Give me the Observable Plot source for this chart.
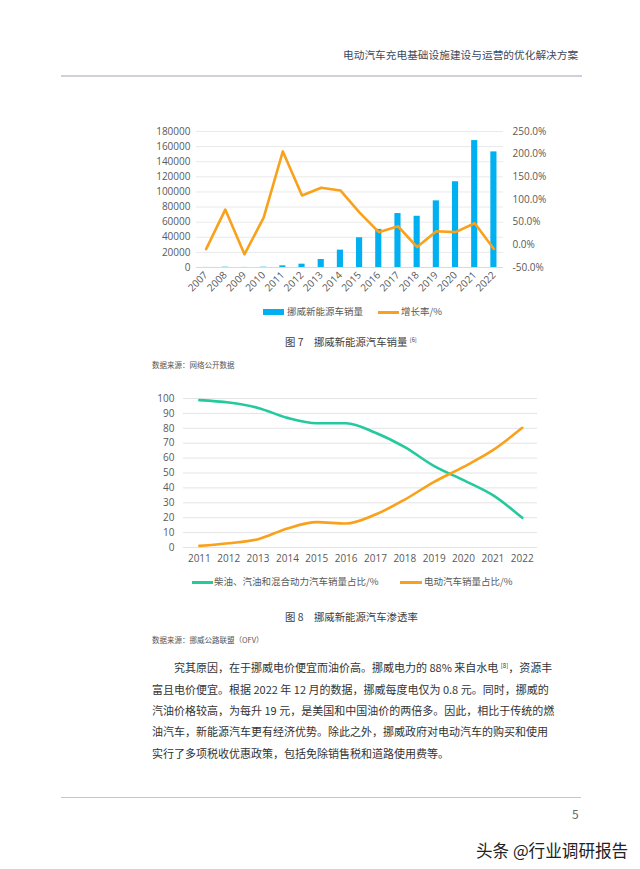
<!DOCTYPE html>
<html>
<head>
<meta charset="utf-8">
<script src="https://cdn.jsdelivr.net/npm/d3@7"></script>
<script src="https://cdn.jsdelivr.net/npm/@observablehq/plot@0.6"></script>
<style>
  html, body { margin:0; padding:0; background:#fff; }
  body { width:640px; height:869px; position:relative; overflow:hidden; font-family:"Noto Sans CJK SC","Noto Sans",sans-serif; }
  .t { position:absolute; line-height:1; transform:translateY(-50%); white-space:nowrap; }
  .hr { position:absolute; height:0; }
  .chart { position:absolute; }
  .sw { position:absolute; }
  sup { font-size:0.55em; vertical-align:0.6em; line-height:0; }
</style>
</head>
<body>
<div class="t" style="left:343px;top:55px;font-size:10.7px;color:#3c4a5c;">电动汽车充电基础设施建设与运营的优化解决方案</div>
<div class="hr" style="left:61px;top:75px;width:521px;border-top:2px solid #cfd0dc;"></div>

<div id="c1" class="chart" style="left:140px;top:120px;"></div>
<div class="sw" style="left:263px;top:309px;width:21px;height:6px;background:#00b0f0;"></div>
<div class="t" style="left:287px;top:312px;font-size:9.5px;color:#595959;">挪威新能源车销量</div>
<div class="sw" style="left:378px;top:311px;width:21px;height:2.6px;background:#f9a11b;"></div>
<div class="t" style="left:401px;top:312px;font-size:9.5px;color:#595959;">增长率/%</div>
<div class="t" style="left:285px;top:342px;font-size:10.4px;color:#404040;">图 7　挪威新能源汽车销量 <sup>[6]</sup></div>
<div class="t" style="left:152px;top:365px;font-size:7.5px;color:#555;">数据来源：网络公开数据</div>

<div id="c2" class="chart" style="left:140px;top:385px;"></div>
<div class="sw" style="left:192px;top:581px;width:21px;height:2.6px;background:#24c99d;"></div>
<div class="t" style="left:214px;top:582px;font-size:9.5px;color:#595959;">柴油、汽油和混合动力汽车销量占比/%</div>
<div class="sw" style="left:400px;top:581px;width:22px;height:2.6px;background:#f9a11b;"></div>
<div class="t" style="left:424px;top:582px;font-size:9.5px;color:#595959;">电动汽车销量占比/%</div>
<div class="t" style="left:285px;top:617px;font-size:10.4px;color:#404040;">图 8　挪威新能源汽车渗透率</div>
<div class="t" style="left:152px;top:640px;font-size:7.5px;color:#555;">数据来源：挪威公路联盟（OFV）</div>

<div class="t" style="left:174px;top:667px;font-size:11px;color:#333;">究其原因，在于挪威电价便宜而油价高。挪威电力的 88% 来自水电 <sup>[8]</sup>，资源丰</div>
<div class="t" style="left:152px;top:689px;font-size:11px;color:#333;">富且电价便宜。根据 2022 年 12 月的数据，挪威每度电仅为 0.8 元。同时，挪威的</div>
<div class="t" style="left:152px;top:710px;font-size:11px;color:#333;">汽油价格较高，为每升 19 元，是美国和中国油价的两倍多。因此，相比于传统的燃</div>
<div class="t" style="left:152px;top:731px;font-size:11px;color:#333;">油汽车，新能源汽车更有经济优势。除此之外，挪威政府对电动汽车的购买和使用</div>
<div class="t" style="left:152px;top:753px;font-size:11px;color:#333;">实行了多项税收优惠政策，包括免除销售税和道路使用费等。</div>

<div class="hr" style="left:61px;top:797px;width:520px;border-top:1px solid #c4c4d4;"></div>
<div class="t" style="left:572px;top:814px;font-size:12px;color:#666;">5</div>
<div class="t" style="left:476px;top:850px;font-size:16.6px;color:#222;">头条 @行业调研报告</div>

<script>
// ---- Chart 1 data ----
const years1 = [2007, 2008, 2009, 2010, 2011, 2012, 2013, 2014, 2015, 2016, 2017, 2018, 2019, 2020, 2021, 2022];
const sales = [100, 400, 100, 400, 2200, 4400, 10600, 23000, 39400, 50500, 71400, 67800, 88200, 113500, 168000, 153000];
const growth = [-9.4, 77.8, -21, 60, 206, 109, 126, 120, 71, 28, 41, -5, 30, 28, 47.5, -9];
const leftTicks = [0, 20000, 40000, 60000, 80000, 100000, 120000, 140000, 160000, 180000];
const rightTicks = [-50, 0, 50, 100, 150, 200, 250];

// ---- Chart 2 data ----
const years2 = [2011, 2012, 2013, 2014, 2015, 2016, 2017, 2018, 2019, 2020, 2021, 2022];
const fossilShare = [98.9, 97.3, 93.7, 87.0, 83.4, 83.4, 77.0, 67.3, 54.6, 45.2, 35.1, 19.9];
const evShare = [1.1, 2.9, 5.6, 12.8, 17.0, 16.1, 22.1, 32.2, 44.1, 54.1, 65.3, 80.3];
const shareTicks = [0, 10, 20, 30, 40, 50, 60, 70, 80, 90, 100];

const ORANGE = "#f9a11b", BLUE = "#00b0f0", GREEN = "#24c99d";
const axisFont = "'Open Sans','Noto Sans',sans-serif";

const data1 = years1.map((y, i) => ({year: y, sales: sales[i], growth: growth[i]}));
const LMAX = 180000, RMIN = -50, RSPAN = 300;
const toLeft = g => (g - RMIN) / RSPAN * LMAX;
const fromLeft = v => Math.round((v / LMAX * RSPAN + RMIN) * 10) / 10;

const p1 = Plot.plot({
  width: 420, height: 185,
  marginLeft: 56, marginRight: 57, marginTop: 11, marginBottom: 38,
  x: {type: "linear", domain: [2006.5, 2022.5]},
  y: {domain: [0, LMAX]},
  style: {fontFamily: axisFont, fontSize: "10px", color: "#595959", background: "transparent"},
  marks: [
    Plot.ruleY(leftTicks, {stroke: "#e9e9e9", strokeWidth: 1}),
    Plot.rectY(data1, {x1: d => d.year - 0.16, x2: d => d.year + 0.16, y: "sales", fill: BLUE}),
    Plot.ruleY([0], {stroke: "#d9d9d9"}),
    Plot.line(data1, {x: "year", y: d => toLeft(d.growth), stroke: ORANGE, strokeWidth: 2.6, strokeLinejoin: "round"}),
    Plot.axisY(leftTicks, {anchor: "left", label: null, tickSize: 0, tickPadding: 6, tickFormat: d => String(d)}),
    Plot.axisY(rightTicks.map(toLeft), {anchor: "right", label: null, tickSize: 0, tickPadding: 9, tickFormat: d => fromLeft(d).toFixed(1) + "%"}),
    Plot.axisX(years1, {anchor: "bottom", label: null, tickSize: 0, tickPadding: 6, tickRotate: -45, tickFormat: d => String(d)})
  ]
});
document.getElementById("c1").appendChild(p1);

const data2 = years2.map((y, i) => ({year: y, fossil: fossilShare[i], ev: evShare[i]}));
const p2 = Plot.plot({
  width: 410, height: 185,
  marginLeft: 43, marginRight: 13, marginTop: 13, marginBottom: 23,
  x: {type: "linear", domain: [2010.46, 2022.52]},
  y: {domain: [0, 100]},
  style: {fontFamily: axisFont, fontSize: "10px", color: "#595959", background: "transparent"},
  marks: [
    Plot.ruleY(shareTicks, {stroke: "#e4e4e4"}),
    Plot.line(data2, {x: "year", y: "fossil", stroke: GREEN, strokeWidth: 2.6, curve: "monotone-x"}),
    Plot.line(data2, {x: "year", y: "ev", stroke: ORANGE, strokeWidth: 2.6, curve: "monotone-x"}),
    Plot.axisY(shareTicks, {anchor: "left", label: null, tickSize: 0, tickPadding: 9, tickFormat: d => String(d)}),
    Plot.axisX(years2, {anchor: "bottom", label: null, tickSize: 0, tickPadding: 7, tickFormat: d => String(d)})
  ]
});
document.getElementById("c2").appendChild(p2);
</script>
</body>
</html>
